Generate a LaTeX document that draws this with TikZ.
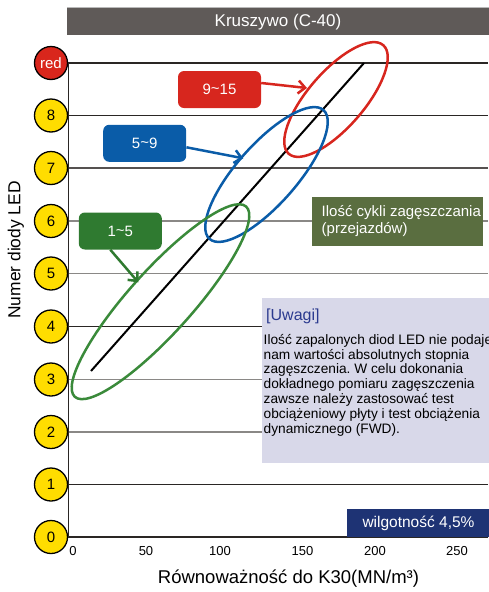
\documentclass[tikz,border=0pt]{standalone}
\usepackage{fontspec}
\setmainfont{Liberation Sans}
\usetikzlibrary{arrows.meta,calc}
\frenchspacing
\definecolor{ledyellow}{HTML}{FFDD00}
\definecolor{ledred}{HTML}{D9261C}
\definecolor{cred}{HTML}{D7261E}
\definecolor{cblue}{HTML}{0A5CA8}
\definecolor{cgreen}{HTML}{2F7A30}
\definecolor{ringgreen}{HTML}{3A8A3A}
\definecolor{titlegray}{HTML}{5F5A58}
\definecolor{labelgreen}{HTML}{5A6E40}
\definecolor{notebg}{HTML}{D8D8E9}
\definecolor{humnavy}{HTML}{1E3374}
\definecolor{uwagiblue}{HTML}{2B3A8F}
\definecolor{dkline}{HTML}{2A2624}
\definecolor{ltline}{HTML}{8A8886}
\begin{document}
\begin{tikzpicture}[x=1pt,y=-1pt,
  led/.style={circle,draw=black,line width=1.3pt,fill=ledyellow,minimum size=33pt,inner sep=0pt,font=\fontsize{15}{15}\selectfont},
  hline/.style={line width=1.3pt,draw=#1},
  tag/.style={rounded corners=6pt,minimum width=83pt,minimum height=37pt,inner sep=0pt,text=white,font=\fontsize{15}{15}\selectfont,fill=#1},
  ptr/.style={draw=#1,line width=2.5pt,-{Straight Barb[length=7pt,width=13pt]}},
  ring/.style={draw=#1,line width=2.5pt},
  xtick/.style={font=\fontsize{13}{13}\selectfont,inner sep=0pt}
]
\useasboundingbox (0,0) rectangle (488,592);

% title bar
\fill[titlegray] (67,7) rectangle (492,35);
\draw[line width=1pt,draw=gray!55] (67,7.5) -- (492,7.5);
\node[text=white,font=\fontsize{17}{17}\selectfont] (title) at (278,22) {Kruszywo (C-40)};

\coordinate (right) at (488,0);

% LED circles
\node[led,fill=ledred,text=white] (lr) at (51,63) {red};
\node[led] (l8) at (51,115.5) {8};
\node[led] (l7) at (51,168) {7};
\node[led] (l6) at (51,221) {6};
\node[led] (l5) at (51,273.5) {5};
\node[led] (l4) at (51,326.5) {4};
\node[led] (l3) at (51,379.5) {3};
\node[led] (l2) at (51,432) {2};
\node[led] (l1) at (51,484.5) {1};
\node[led] (l0) at (51,537) {0};

% horizontal lines
\draw[hline=dkline] (lr.east) -- (lr.east -| right);
\draw[hline=dkline] (l8.east) -- (l8.east -| right);
\draw[hline=dkline!80] (l7.east) -- (l7.east -| right);
\draw[hline=ltline] (l6.east) -- (l6.east -| right);
\draw[hline=ltline] (l5.east) -- (l5.east -| right);
\draw[hline=dkline] (l4.east) -- (l4.east -| right);
\draw[hline=ltline] (l3.east) -- (l3.east -| right);
\draw[hline=ltline] (l2.east) -- (l2.east -| right);
\draw[hline=dkline] (l1.east) -- (l1.east -| right);
\draw[hline=dkline] (l0.east) -- (l0.east -| right);
% vertical axis
\draw[hline=dkline] (lr.east) -- (l0.east);

% x tick labels
\node[xtick] (x0) at (73,551) {0};
\node[xtick] (x50) at (146,551) {50};
\node[xtick] (x100) at (220,551) {100};
\node[xtick] (x150) at (302.5,551) {150};
\node[xtick] (x200) at (375,551) {200};
\node[xtick] (x250) at (457,551) {250};

% axis titles
\node[font=\fontsize{18.5}{18.5}\selectfont] (xtitle) at (288.5,579) {Równoważność do K30(MN/m³)};
\node[font=\fontsize{17.4}{17.4}\selectfont,rotate=90] (ytitle) at (16,250) {Numer diody LED};

% trend line
\coordinate (d0) at (91,371);
\coordinate (d1) at (364,63);
\draw[line width=2pt,black] (d0) -- (d1);

% ellipses
\draw[ring=cred,shift={(336,99.5)},rotate=49] (0,0) ellipse [x radius=72pt,y radius=28pt];
\draw[ring=cblue,shift={(266.5,174.5)},rotate=48.5] (0,0) ellipse [x radius=86pt,y radius=30pt];
\draw[ring=ringgreen,shift={(160.5,301.7)},rotate=48] (0,0) ellipse [x radius=128pt,y radius=31.5pt];

% range tags
\node[tag=cred] (t915) at (219.5,89.5) {9\raisebox{0.1ex}{\char"007E}15};
\node[tag=cblue] (t59) at (144.7,143.3) {5\raisebox{0.1ex}{\char"007E}9};
\node[tag=cgreen] (t15) at (120.3,231) {1\raisebox{0.1ex}{\char"007E}5};

\coordinate (a915) at (307,88);
\coordinate (a59) at (243.3,158.3);
\coordinate (a15) at (138.3,282.3);
\draw[ptr=cred] ([yshift=6.5pt]t915.east) -- (a915);
\draw[ptr=cblue] ([yshift=-4pt]t59.east) -- (a59);
\draw[ptr=cgreen] ([xshift=-10pt]t15.south) -- (a15);

% cycles label
\node[fill=labelgreen,minimum width=171pt,minimum height=49pt,inner sep=0pt,anchor=north west] (cyc) at (312,197) {};
\node[anchor=north west,inner sep=0pt,align=left,text=white,font=\fontsize{15}{17}\selectfont] (cyctxt) at (321.5,205) {Ilość cykli zagęszczania\\(przejazdów)};

% note box
\node[fill=notebg,minimum width=232pt,minimum height=165pt,inner sep=0pt,anchor=north west] (note) at (262,298) {};
\node[anchor=base west,inner sep=0pt,text=uwagiblue,font=\fontsize{16}{16}\selectfont] (uw) at (266,320) {[Uwagi]};
\node[anchor=north west,inner sep=0pt,align=left,font=\fontsize{13.7}{14.85}\selectfont] (notetxt) at (263.5,334) {Ilość zapalonych diod LED nie podaje\\nam wartości absolutnych stopnia\\zagęszczenia. W celu dokonania\\dokładnego pomiaru zagęszczenia\\zawsze należy zastosować test\\obciążeniowy płyty i test obciążenia\\dynamicznego (FWD).};

% humidity box
\node[fill=humnavy,minimum width=143pt,minimum height=28pt,inner sep=0pt,text=white,font=\fontsize{15.5}{15.5}\selectfont] (hum) at (418.5,523) {wilgotność 4,5\%};
\end{tikzpicture}
\end{document}
